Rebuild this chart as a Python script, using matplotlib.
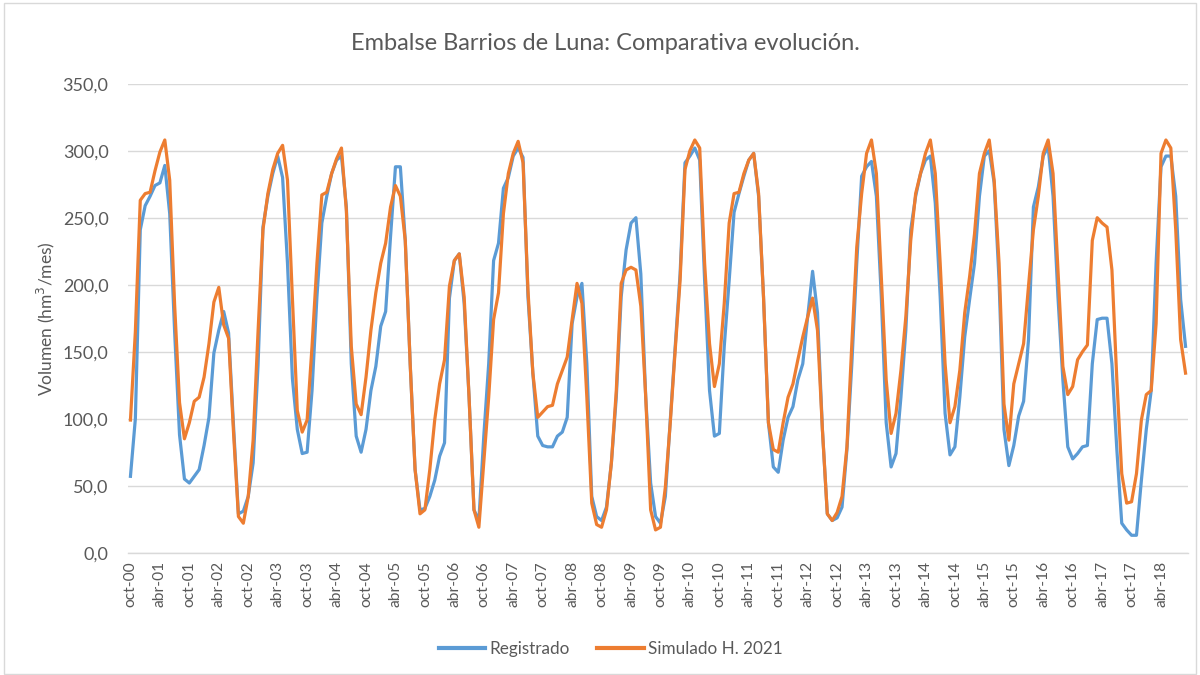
import matplotlib
matplotlib.use("Agg")
import matplotlib.pyplot as plt
from matplotlib.patches import Rectangle
from matplotlib.ticker import FuncFormatter, MultipleLocator

plt.rcParams['font.family'] = ['Lato', 'DejaVu Sans']
plt.rcParams['ytick.major.pad'] = 14
plt.rcParams['xtick.major.pad'] = 6

# Monthly volumes, hydrological years oct-2000 .. sep-2018 (hm3/mes)
registrado = [
    57, 100, 241, 259, 266, 274, 276, 289, 253, 165, 88, 55,
    52, 57, 62, 80, 101, 149, 166, 180, 164, 95, 29, 31,
    42, 67, 140, 243, 266, 283, 296, 280, 216, 130, 92, 74,
    75, 121, 191, 246, 266, 283, 293, 296, 258, 141, 87, 75,
    92, 121, 139, 169, 180, 236, 288, 288, 233, 141, 62, 32,
    33, 42, 54, 72, 82, 190, 218, 223, 186, 116, 32, 24,
    87, 141, 218, 231, 272, 280, 296, 302, 295, 191, 134, 87,
    80, 79, 79, 87, 90, 101, 171, 191, 201, 141, 42, 27,
    24, 34, 67, 116, 191, 226, 246, 250, 208, 116, 52, 27,
    22, 42, 99, 154, 208, 291, 296, 302, 293, 203, 121, 87,
    89, 154, 203, 254, 268, 281, 293, 298, 266, 191, 97, 64,
    60, 84, 101, 109, 129, 141, 176, 210, 179, 92, 29, 24,
    26, 34, 77, 141, 216, 281, 288, 292, 266, 191, 97, 64,
    74, 116, 166, 241, 266, 283, 293, 296, 261, 191, 104, 73,
    79, 116, 161, 189, 216, 266, 296, 300, 276, 203, 92, 65,
    80, 102, 113, 159, 258, 273, 296, 303, 266, 191, 129, 79,
    70, 74, 79, 80, 141, 174, 175, 175, 141, 77, 22, 17,
    13, 13, 54, 92, 121, 216, 288, 296, 296, 266, 189, 154,
]

simulado = [
    99, 165, 263, 268, 269, 285, 299, 308, 278, 185, 112, 85,
    97, 113, 116, 131, 156, 187, 198, 170, 160, 90, 27, 22,
    42, 84, 165, 241, 268, 286, 298, 304, 278, 190, 106, 90,
    99, 154, 216, 267, 269, 283, 294, 302, 255, 154, 111, 103,
    131, 166, 194, 216, 231, 258, 274, 266, 233, 141, 62, 29,
    32, 62, 99, 126, 144, 199, 218, 223, 191, 116, 32, 19,
    67, 116, 174, 194, 253, 283, 298, 307, 291, 196, 134, 101,
    105, 109, 110, 126, 136, 146, 174, 201, 186, 116, 37, 21,
    19, 32, 67, 121, 201, 211, 213, 211, 184, 116, 32, 17,
    19, 49, 97, 151, 203, 286, 300, 308, 302, 216, 156, 124,
    141, 186, 246, 268, 269, 283, 293, 298, 268, 191, 97, 77,
    75, 97, 116, 126, 144, 161, 176, 190, 166, 92, 29, 24,
    30, 42, 79, 156, 228, 268, 298, 308, 283, 206, 129, 89,
    104, 136, 176, 233, 268, 283, 298, 308, 283, 216, 141, 97,
    109, 136, 179, 206, 238, 283, 298, 308, 278, 216, 111, 84,
    126, 141, 156, 199, 241, 266, 298, 308, 283, 211, 139, 118,
    124, 144, 150, 155, 233, 250, 246, 243, 211, 129, 59, 37,
    38, 59, 99, 118, 121, 171, 298, 308, 302, 241, 159, 134,
]

# Axis labels every six months, starting oct-2000
tick_labels = []
for year in range(0, 18):
    tick_labels.append(f"oct-{year:02d}")
    tick_labels.append(f"abr-{year + 1:02d}")

months = list(range(len(registrado)))
tick_pos = list(range(0, len(months), 6))

fig = plt.figure(figsize=(12, 6.75), dpi=100)
ax = fig.add_axes([128 / 1200, 1 - 552.7 / 675, (1188 - 128) / 1200, (552.7 - 83.7) / 675])

blue = '#5B9BD5'
orange = '#ED7D31'
text_col = '#595959'
grid_col = '#D9D9D9'

ax.plot(months, registrado, color=blue, lw=2.3, label='Registrado', solid_joinstyle='round')
ax.plot(months, simulado, color=orange, lw=2.3, label='Simulado H. 2021', solid_joinstyle='round')

ax.set_xlim(-0.5, len(months) - 0.5)
ax.set_ylim(0, 350)
ax.yaxis.set_major_locator(MultipleLocator(50))
ax.yaxis.set_major_formatter(FuncFormatter(lambda v, p: f"{v:.1f}".replace('.', ',')))
ax.set_xticks(tick_pos)
ax.set_xticklabels(tick_labels[:len(tick_pos)], rotation=90)

ax.grid(axis='y', color=grid_col, lw=1.0)
ax.set_axisbelow(True)
for side in ['top', 'right', 'left']:
    ax.spines[side].set_visible(False)
ax.spines['bottom'].set_color(grid_col)
ax.spines['bottom'].set_linewidth(1.0)
ax.tick_params(axis='both', length=0, colors=text_col)
ax.tick_params(axis='y', labelsize=13)
ax.tick_params(axis='x', labelsize=11.2)

ax.set_ylabel('Volumen (hm$^3$/mes)', color=text_col, fontsize=12.5, labelpad=4)
fig.text(605 / 1200, 1 - 43 / 675, 'Embalse Barrios de Luna: Comparativa evolución.',
         ha='center', va='center', color=text_col, fontsize=17)

leg = fig.legend(loc='center', bbox_to_anchor=(611 / 1200, 1 - 649 / 675), ncol=2, frameon=False,
                 fontsize=12.3, handlelength=2.7, handletextpad=0.25, columnspacing=1.6)
for t in leg.get_texts():
    t.set_color(text_col)
for h in leg.get_lines():
    h.set_linewidth(3.0)

fig.patches.append(Rectangle((4 / 1200, 0.002), 1 - 8 / 1200, 0.994, transform=fig.transFigure,
                             fill=False, edgecolor=grid_col, lw=1.0))

fig.savefig('out.png', dpi=100)
